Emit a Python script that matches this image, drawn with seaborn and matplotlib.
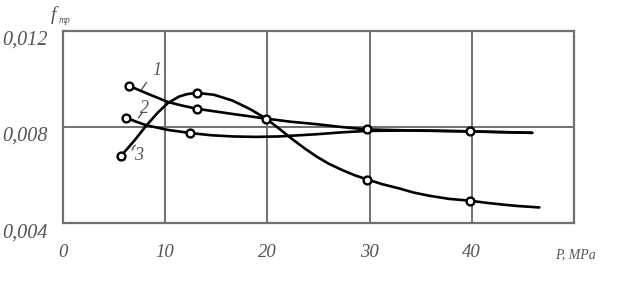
import pandas as pd
import matplotlib
matplotlib.use("Agg")
import matplotlib.pyplot as plt
import seaborn as sns

# curve values (P in MPa, friction coefficient)
p1 = [6.5, 8.5, 10.3, 11.7, 13.1, 16.5, 19.9, 22.3, 24.8, 27.3, 29.8, 34.8, 39.8, 45.9]
f1 = [0.00971, 0.00935, 0.00904, 0.00889, 0.00876, 0.00855, 0.00835, 0.00822, 0.00812, 0.00800,
      0.00790, 0.00785, 0.00782, 0.00776]
p2 = [6.2, 7.2, 8.2, 10.3, 12.5, 14.5, 16.6, 18.9, 21.2, 24.8, 27.3, 29.8, 34.8, 39.8, 45.9]
f2 = [0.00839, 0.00822, 0.00807, 0.00788, 0.00775, 0.00766, 0.00761, 0.00759, 0.00761, 0.00770,
      0.00778, 0.00784, 0.00786, 0.00782, 0.00776]
p3 = [5.7, 6.9, 8.2, 9.3, 10.3, 11.4, 12.2, 13.1, 14.8, 16.6, 18.3, 19.9, 21.2, 22.5, 23.7, 24.8,
      26.0, 27.4, 28.6, 29.8, 31.3, 32.9, 34.3, 35.8, 37.7, 39.8, 41.5, 43.0, 44.5, 46.6]
f3 = [0.0068, 0.00738, 0.00807, 0.00860, 0.00900, 0.00927, 0.00937, 0.00942, 0.00934, 0.00910,
      0.00875, 0.00835, 0.00792, 0.00748, 0.00710, 0.00678, 0.00648, 0.00620, 0.00599, 0.00582,
      0.00562, 0.00545, 0.00528, 0.00515, 0.00502, 0.00494, 0.00485, 0.00478, 0.00472, 0.00466]

# measured points (circles)
mp1 = [6.5, 13.1, 19.9, 29.8, 39.8]
mf1 = [0.00971, 0.00876, 0.00835, 0.00790, 0.00782]
mp2 = [6.2, 12.5]
mf2 = [0.00839, 0.00775]
mp3 = [5.7, 13.1, 29.8, 39.8]
mf3 = [0.0068, 0.00942, 0.00582, 0.00494]

xticks = [0, 10, 20, 30, 40]
yticks = [0.004, 0.008, 0.012]
ytick_labels = ["0,004", "0,008", "0,012"]

sns.set_style("white")
plt.rcParams['font.family'] = ['Liberation Serif', 'DejaVu Serif']

fig = plt.figure(figsize=(6.2, 2.82), dpi=100)
ax = fig.add_axes([0.101, 0.208, 0.825, 0.683])

lines = pd.concat([
    pd.DataFrame({'P': p1, 'f': f1, 'curve': '1'}),
    pd.DataFrame({'P': p2, 'f': f2, 'curve': '2'}),
    pd.DataFrame({'P': p3, 'f': f3, 'curve': '3'}),
])
marks = pd.concat([
    pd.DataFrame({'P': mp1, 'f': mf1}),
    pd.DataFrame({'P': mp2, 'f': mf2}),
    pd.DataFrame({'P': mp3, 'f': mf3}),
])

sns.lineplot(data=lines, x='P', y='f', units='curve', estimator=None, sort=False,
             color='black', linewidth=1.9, ax=ax, legend=False)
sns.scatterplot(data=marks, x='P', y='f', marker='o', s=32, facecolor='white',
                edgecolor='black', linewidth=1.7, ax=ax, zorder=5, legend=False)

ax.set_xlim(0, 50)
ax.set_ylim(0.004, 0.012)
ax.set_xticks(xticks)
ax.set_xticklabels([str(t) for t in xticks])
ax.set_yticks(yticks)
ax.set_yticklabels(ytick_labels)
ax.tick_params(axis='x', length=0, pad=15, labelsize=13.5, labelcolor='#555555')
ax.tick_params(axis='y', length=0, pad=11, labelsize=14.5, labelcolor='#555555')
for lab in ax.get_xticklabels() + ax.get_yticklabels():
    lab.set_fontstyle('italic')
for lab in ax.get_yticklabels():
    lab.set_verticalalignment('top')
ax.grid(True, color='#707070', linewidth=1.4)
for s in ax.spines.values():
    s.set_color('#707070')
    s.set_linewidth(1.6)
ax.set_xlabel('')
ax.set_ylabel('')

# curve numbers with small leaders
for num, (tx, ty) in {'1': (9.2, 0.01035), '2': (8.0, 0.00877), '3': (7.45, 0.00683)}.items():
    ax.text(tx, ty, num, fontsize=13, fontstyle='italic', color='#555555', ha='center', va='center')
ax.plot([7.7, 8.2], [0.00955, 0.00985], color='#555555', lw=1)
ax.plot([7.4, 7.8], [0.00838, 0.00860], color='#555555', lw=1)
ax.plot([6.8, 6.95, 7.1], [0.00705, 0.00718, 0.00725], color='#555555', lw=1)

fig.text(0.087, 0.945, 'f', fontsize=14, fontstyle='italic', color='#555555', ha='center', va='center')
fig.text(0.094, 0.928, 'тр', fontsize=7, fontstyle='italic', color='#555555', ha='left', va='center')
fig.text(0.895, 0.096, 'P, MPa', fontsize=10, fontstyle='italic', color='#555555', ha='left', va='center')

fig.savefig('out.png', dpi=100)
